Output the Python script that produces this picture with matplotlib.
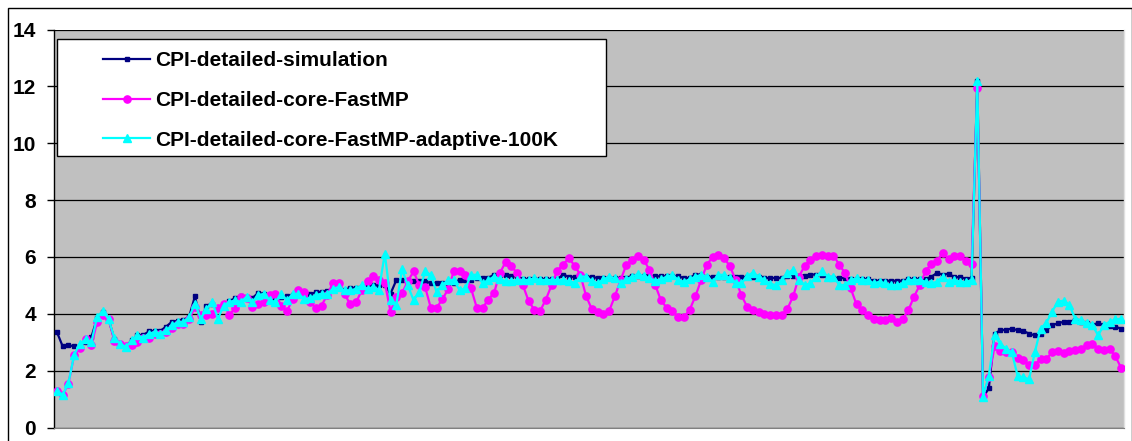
import matplotlib
matplotlib.use("Agg")
import matplotlib.pyplot as plt
from matplotlib.patches import Rectangle

labels = ["CPI-detailed-simulation",
          "CPI-detailed-core-FastMP",
          "CPI-detailed-core-FastMP-adaptive-100K"]

cpi_sim = [
    3.36, 2.86, 2.89, 2.86, 2.85, 3.0, 3.18, 3.85, 4.05, 3.8,
    3.1, 2.95, 2.85, 3.07, 3.24, 3.25, 3.38, 3.4, 3.4, 3.55,
    3.72, 3.75, 3.78, 3.9, 4.62, 3.72, 4.29, 4.35, 4.2, 4.35,
    4.45, 4.55, 4.64, 4.6, 4.55, 4.74, 4.7, 4.6, 4.55, 4.6,
    4.62, 4.65, 4.72, 4.72, 4.7, 4.75, 4.78, 4.8, 4.88, 4.9,
    4.85, 4.9, 4.92, 4.95, 4.98, 5.0, 5.0, 5.0, 4.71, 5.18,
    5.18, 5.16, 5.14, 5.14, 5.14, 5.08, 5.08, 5.08, 5.08, 5.08,
    5.2, 5.2, 5.2, 5.26, 5.26, 5.26, 5.38, 5.38, 5.38, 5.32,
    5.32, 5.22, 5.22, 5.22, 5.22, 5.22, 5.22, 5.22, 5.38, 5.3,
    5.3, 5.3, 5.3, 5.3, 5.26, 5.26, 5.26, 5.26, 5.26, 5.26,
    5.34, 5.34, 5.32, 5.32, 5.32, 5.32, 5.32, 5.32, 5.32, 5.26,
    5.26, 5.38, 5.38, 5.3, 5.3, 5.3, 5.3, 5.3, 5.3, 5.29,
    5.29, 5.29, 5.29, 5.26, 5.26, 5.26, 5.26, 5.34, 5.34, 5.34,
    5.34, 5.38, 5.38, 5.38, 5.26, 5.26, 5.26, 5.26, 5.22, 5.22,
    5.22, 5.22, 5.16, 5.16, 5.16, 5.16, 5.16, 5.16, 5.22, 5.22,
    5.22, 5.22, 5.3, 5.44, 5.38, 5.41, 5.29, 5.29, 5.24, 5.26,
    12.18, 1.06, 1.38, 3.3, 3.42, 3.44, 3.48, 3.42, 3.4, 3.3,
    3.24, 3.28, 3.42, 3.6, 3.66, 3.72, 3.72, 3.78, 3.72, 3.68,
    3.6, 3.68, 3.6, 3.56, 3.54, 3.48,
]

cpi_fastmp = [
    1.3, 1.13, 1.54, 2.54, 2.8, 3.1, 2.89, 3.71, 3.95, 3.8,
    3.05, 2.95, 2.85, 2.9, 3.0, 3.15, 3.15, 3.3, 3.3, 3.35,
    3.5, 3.65, 3.65, 3.8, 4.25, 3.95, 3.95, 4.0, 4.22, 4.36,
    3.95, 4.22, 4.6, 4.55, 4.24, 4.33, 4.4, 4.66, 4.7, 4.29,
    4.09, 4.52, 4.85, 4.77, 4.4, 4.22, 4.29, 4.66, 5.1, 5.1,
    4.7, 4.33, 4.4, 4.82, 5.15, 5.33, 5.2, 5.1, 4.08, 4.6,
    4.73, 5.14, 5.49, 5.01, 4.95, 4.21, 4.21, 4.51, 4.86, 5.49,
    5.49, 5.37, 4.89, 4.21, 4.21, 4.5, 4.74, 5.43, 5.82, 5.67,
    5.43, 5.01, 4.45, 4.14, 4.1, 4.5, 5.01, 5.52, 5.73, 5.96,
    5.69, 5.37, 4.62, 4.16, 4.06, 4.0, 4.1, 4.62, 5.19, 5.73,
    5.9, 6.02, 5.9, 5.55, 5.01, 4.48, 4.21, 4.1, 3.88, 3.88,
    4.14, 4.62, 5.19, 5.73, 6.0, 6.08, 5.96, 5.67, 5.19, 4.65,
    4.24, 4.12, 4.06, 4.0, 3.95, 3.94, 3.94, 4.18, 4.62, 5.31,
    5.69, 5.9, 6.02, 6.08, 6.02, 6.05, 5.73, 5.43, 4.89, 4.33,
    4.12, 3.94, 3.82, 3.79, 3.79, 3.86, 3.7, 3.82, 4.12, 4.6,
    5.01, 5.49, 5.76, 5.85, 6.15, 5.93, 6.02, 6.04, 5.86, 5.74,
    11.95, 1.1, 1.76, 2.85, 2.69, 2.65, 2.65, 2.45, 2.36, 2.21,
    2.21, 2.41, 2.41, 2.65, 2.69, 2.62, 2.69, 2.73, 2.77, 2.89,
    2.95, 2.77, 2.71, 2.77, 2.5, 2.1,
]

cpi_adaptive = [
    1.3, 1.15, 1.55, 2.55, 2.95, 3.1, 3.0, 3.9, 4.1, 3.8,
    3.15, 2.95, 2.83, 3.07, 3.24, 3.16, 3.3, 3.36, 3.3, 3.42,
    3.59, 3.71, 3.71, 3.89, 4.36, 3.83, 4.17, 4.42, 3.83, 4.29,
    4.42, 4.47, 4.42, 4.6, 4.42, 4.66, 4.7, 4.47, 4.42, 4.7,
    4.47, 4.7, 4.7, 4.52, 4.55, 4.66, 4.7, 4.7, 4.88, 4.94,
    4.82, 4.82, 4.88, 5.0, 4.88, 4.94, 4.85, 6.12, 4.49, 4.32,
    5.56, 5.0, 4.48, 4.75, 5.49, 5.37, 4.77, 5.01, 5.19, 5.19,
    4.83, 4.89, 5.37, 5.37, 5.07, 5.19, 5.31, 5.22, 5.14, 5.14,
    5.19, 5.19, 5.19, 5.25, 5.19, 5.19, 5.19, 5.19, 5.19, 5.14,
    5.1, 5.31, 5.31, 5.15, 5.07, 5.21, 5.31, 5.25, 5.1, 5.21,
    5.31, 5.4, 5.33, 5.25, 5.17, 5.21, 5.31, 5.37, 5.19, 5.13,
    5.21, 5.31, 5.37, 5.31, 5.13, 5.37, 5.37, 5.25, 5.1, 5.07,
    5.33, 5.45, 5.31, 5.19, 5.05, 5.01, 5.19, 5.43, 5.55, 5.19,
    5.01, 5.07, 5.31, 5.49, 5.31, 5.31, 5.01, 5.01, 5.19, 5.25,
    5.19, 5.19, 5.07, 5.13, 5.07, 5.01, 5.01, 5.07, 5.19, 5.19,
    5.19, 5.13, 5.07, 5.13, 5.31, 5.13, 5.19, 5.12, 5.12, 5.18,
    12.18, 1.08, 1.82, 3.24, 2.95, 2.77, 2.65, 1.82, 1.76, 1.7,
    2.65, 3.48, 3.68, 4.07, 4.43, 4.46, 4.31, 3.83, 3.78, 3.68,
    3.6, 3.24, 3.6, 3.72, 3.8, 3.83,
]

y_ticks = [0, 2, 4, 6, 8, 10, 12, 14]

W, H = 1132, 441
fig = plt.figure(figsize=(W / 100, H / 100), dpi=100)
fig.patch.set_facecolor("white")

# outer chart border
fig.add_artist(Rectangle((8 / W, -0.05), (1131.5 - 8) / W, 1.05 - 8 / H,
                         transform=fig.transFigure, fill=False,
                         edgecolor="black", linewidth=1.0))

ax_l, ax_r, ax_t, ax_b = 54, 1124, 29.5, 427.5
ax = fig.add_axes([ax_l / W, 1 - ax_b / H, (ax_r - ax_l) / W, (ax_b - ax_t) / H])
ax.set_facecolor("#C0C0C0")

n = len(cpi_sim)
x = list(range(n))

ax.plot(x, cpi_sim, color="#000080", lw=1.6, marker="s", ms=2.6,
        mec="#000080", mfc="#000080", label=labels[0], zorder=3)
ax.plot(x, cpi_fastmp, color="#FF00FF", lw=1.6, marker="o", ms=5.2,
        mec="#FF00FF", mfc="#FF00FF", label=labels[1], zorder=4)
ax.plot(x, cpi_adaptive, color="#00FFFF", lw=1.6, marker="^", ms=5.2,
        mec="#00FFFF", mfc="#00FFFF", label=labels[2], zorder=5)

ax.set_xlim(-0.5, n - 0.5)
ax.set_ylim(0, 14)
ax.set_yticks(y_ticks)
ax.set_xticks([])
ax.yaxis.grid(True, color="black", lw=0.9)
ax.set_axisbelow(True)

FS = 15
for lab in ax.get_yticklabels():
    lab.set_fontweight("bold")
    lab.set_fontfamily("Liberation Sans")
ax.tick_params(axis="y", direction="out", length=5, width=1, pad=8,
               labelsize=FS, colors="black")

ax.spines["left"].set_color("black")
ax.spines["left"].set_linewidth(1.0)
ax.spines["top"].set_visible(False)
ax.spines["right"].set_color("#E0E0E0")
ax.spines["right"].set_linewidth(1.0)
ax.spines["bottom"].set_color("#808080")
ax.spines["bottom"].set_linewidth(0.8)

# legend box
def ax_frac_x(px):
    return (px - ax_l) / (ax_r - ax_l)

def ax_frac_y(py):
    return (ax_b - py) / (ax_b - ax_t)

bx0, bx1, by0, by1 = 57.3, 606, 39.3, 156
ax.add_patch(Rectangle((ax_frac_x(bx0), ax_frac_y(by1)),
                       ax_frac_x(bx1) - ax_frac_x(bx0),
                       ax_frac_y(by0) - ax_frac_y(by1),
                       transform=ax.transAxes, facecolor="white",
                       edgecolor="black", linewidth=1.0, zorder=10))

leg = ax.legend(loc="upper left",
                bbox_to_anchor=(ax_frac_x(103), ax_frac_y(51)),
                frameon=False, borderpad=0, borderaxespad=0,
                handlelength=2.26, handletextpad=0.24, labelspacing=1.0,
                prop={"family": "Liberation Sans", "weight": "bold", "size": FS})
leg.set_zorder(11)

fig.savefig("out.png", dpi=100)
